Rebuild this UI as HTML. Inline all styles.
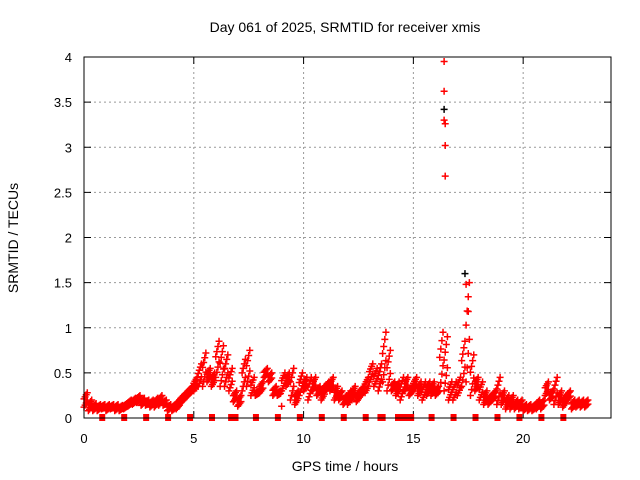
<!DOCTYPE html>
<html><head><meta charset="utf-8"><style>
body{margin:0;background:#fff;}
svg{display:block;font-family:"Liberation Sans",sans-serif;}
</style></head><body>
<svg id="chart" width="640" height="480">
<text x="345" y="32" text-anchor="middle" font-size="14">Day 061 of 2025, SRMTID for receiver xmis</text>
<text x="345" y="471" text-anchor="middle" font-size="14">GPS time / hours</text>
<text x="18" y="238" text-anchor="middle" font-size="14" transform="rotate(-90 18 238)">SRMTID / TECUs</text>
<g id="grid"></g><g id="ticks"></g><g id="marks"></g>
<rect x="84" y="57" width="527" height="361" fill="none" stroke="#000" stroke-width="1"/>
</svg>
<script>
const xTicks=[0,5,10,15,20];
const yTicks=[0,0.5,1,1.5,2,2.5,3,3.5,4];
const yTickLabels=["0","0.5","1","1.5","2","2.5","3","3.5","4"];
const hiVals=[.28,.2,.16,.15,.15,.15,.15,.15,.14,.16,.2,.22,.25,.22,.2,.2,.22,.25,.2,.15,.15,.2,.25,.3,.35,.45,.6,.72,.55,.5,.85,.8,.7,.55,.3,.25,.65,.75,.45,.3,.4,.55,.5,.35,.3,.5,.5,.55,.3,.5,.45,.45,.45,.35,.35,.4,.45,.35,.3,.25,.3,.35,.3,.35,.45,.6,.55,.6,.95,.75,.4,.4,.45,.45,.35,.45,.4,.4,.4,.4,.35,.95,.9,.4,.4,.45,.85,1.5,.7,.45,.4,.3,.25,.3,.45,.3,.25,.25,.2,.2,.15,.15,.15,.2,.2,.4,.3,.45,.3,.25,.3,.2,.2,.2,.2];
const loVals=[.12,.08,.08,.08,.1,.08,.1,.08,.08,.1,.13,.15,.17,.14,.14,.12,.12,.14,.14,.08,.08,.1,.17,.22,.27,.3,.35,.35,.4,.35,.45,.35,.35,.3,.18,.13,.3,.35,.25,.25,.28,.45,.4,.25,.25,.3,.35,.2,.15,.25,.3,.2,.3,.25,.2,.3,.3,.2,.2,.15,.15,.2,.18,.25,.28,.4,.35,.3,.4,.3,.3,.25,.2,.3,.25,.3,.25,.2,.25,.25,.25,.3,.3,.2,.2,.25,.35,.4,.25,.3,.2,.15,.15,.2,.15,.15,.1,.1,.1,.1,.08,.08,.08,.1,.1,.25,.2,.15,.15,.12,.2,.1,.12,.12,.12];
const zeroTimes=[0.83,1.83,2.83,3.83,4.83,5.83,6.7,6.9,7.83,8.83,9.83,10.83,11.83,12.83,13.5,13.6,14.3,14.45,14.7,14.8,14.9,15.83,16.83,17.83,18.83,19.83,20.83,21.83];
const outT=[16.4,16.4,16.4,16.4,16.45,16.45,16.45,17.35,17.4,17.5,9.0];
const outV=[3.95,3.62,3.42,3.3,3.26,3.02,2.68,1.6,1.48,1.18,0.13];
const X=t=>84+t*(527/24), Y=v=>418-v*(361/4);
const NS="http://www.w3.org/2000/svg";
const grid=document.getElementById('grid'),ticks=document.getElementById('ticks'),marks=document.getElementById('marks');
function mk(tag,attrs,parent){const e=document.createElementNS(NS,tag);for(const k in attrs)e.setAttribute(k,attrs[k]);parent.appendChild(e);return e;}
xTicks.forEach(t=>{
  const x=X(t);
  if(t>0){const g=mk('line',{x1:x,x2:x,y1:57,y2:418,stroke:'#999','stroke-dasharray':'2,3'},grid);
  
  }
  mk('line',{x1:x,x2:x,y1:418,y2:411,stroke:'#000'},ticks);
  mk('line',{x1:x,x2:x,y1:57,y2:64,stroke:'#000'},ticks);
  const l=mk('text',{x:x,y:443,'text-anchor':'middle','font-size':13},ticks);l.textContent=t;
  
  
});
yTicks.forEach((v,i)=>{
  const y=Y(v);
  if(v>0&&v<4){const g=mk('line',{x1:84,x2:611,y1:y,y2:y,stroke:'#999','stroke-dasharray':'2,3'},grid);
  
  }
  mk('line',{x1:84,x2:91,y1:y,y2:y,stroke:'#000'},ticks);
  mk('line',{x1:611,x2:604,y1:y,y2:y,stroke:'#000'},ticks);
  const l=mk('text',{x:72,y:y+5,'text-anchor':'end','font-size':13},ticks);l.textContent=yTickLabels[i];
  
  
});
function plus(t,v,col,name){
  const x=X(t),y=Y(v);
  const p=mk('path',{d:`M${x-3.5},${y}h7M${x},${y-3.5}v7`,stroke:col,'stroke-width':1.5,fill:'none'},marks);
  
  
}
hiVals.forEach((h,i)=>{
  const t=i*0.2,l=loVals[i];
  const n=8;
  for(let k=0;k<n;k++){const v=l+(h-l)*k/(n-1);plus(t+(k%4)*0.05,v,'#f00','srmtid-point');}
});
zeroTimes.forEach(t=>{
  const z=mk('rect',{x:X(t)-3,y:414,width:6,height:7,fill:'#f00'},marks);
  
  
});
outT.forEach((t,i)=>plus(t,outV[i],(i==2||i==7)?'#000':'#f00','outlier-point'));
</script>
</body></html>
